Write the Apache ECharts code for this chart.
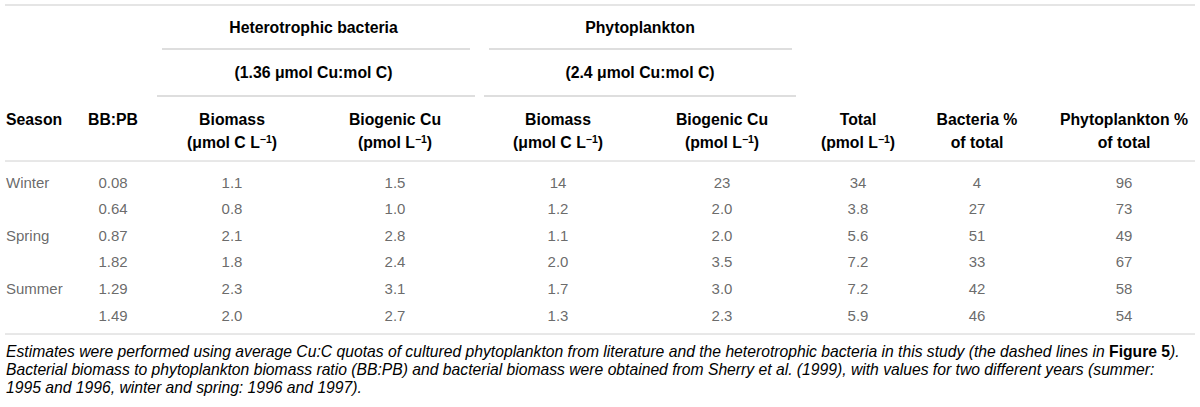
<!DOCTYPE html>
<html><head><meta charset="utf-8">
<script src="https://cdn.jsdelivr.net/npm/echarts@6/dist/echarts.min.js"></script>
<style>html,body{margin:0;padding:0;background:#fff}#c{width:1200px;height:407px}</style>
</head><body><div id="c"></div>
<script>
// ---- data ----
const seasons = ['Winter', '', 'Spring', '', 'Summer', ''];
const bbpb = [0.08, 0.64, 0.87, 1.82, 1.29, 1.49];
const bactBiomass = [1.1, 0.8, 2.1, 1.8, 2.3, 2.0];
const bactCu = [1.5, 1.0, 2.8, 2.4, 3.1, 2.7];
const phytoBiomass = [14, 1.2, 1.1, 2.0, 1.7, 1.3];
const phytoCu = [23, 2.0, 2.0, 3.5, 3.0, 2.3];
const totalCu = [34, 3.8, 5.6, 7.2, 7.2, 5.9];
const bactPct = [4, 27, 51, 33, 42, 46];
const phytoPct = [96, 73, 49, 67, 58, 54];

// ---- text ----
const groupTitles = ['Heterotrophic bacteria', 'Phytoplankton'];
const groupQuotas = ['(1.36 \u03bcmol Cu:mol C)', '(2.4 \u03bcmol Cu:mol C)'];
const headLine1 = ['Season', 'BB:PB', 'Biomass', 'Biogenic Cu', 'Biomass', 'Biogenic Cu', 'Total', 'Bacteria %', 'Phytoplankton %'];
const headLine2 = [null, null, ['(\u03bcmol C L', '\u22121', ')'], ['(pmol L', '\u22121', ')'], ['(\u03bcmol C L', '\u22121', ')'], ['(pmol L', '\u22121', ')'], ['(pmol L', '\u22121', ')'], ['of total'], ['of total']];
const captionLines = [
  [['i', 'Estimates were performed using average Cu:C quotas of cultured phytoplankton from literature and the heterotrophic bacteria in this study (the dashed lines in '], ['b', 'Figure 5'], ['i', ').']],
  [['i', 'Bacterial biomass to phytoplankton biomass ratio (BB:PB) and bacterial biomass were obtained from '], ['g', 'Sherry et al. (1999)'], ['i', ', with values for two different years (summer:']],
  [['i', '1995 and 1996, winter and spring: 1996 and 1997).']]
];

// ---- layout (positions only) ----
const colX = [6, 113, 232, 395, 558, 722, 858, 977, 1124];
const groupX = [[162, 470], [489, 792]];
const groupX2 = [[157, 475], [484, 796]];
const FONT = '"Liberation Sans", Arial, Helvetica, sans-serif';

const fmt1 = v => v >= 10 ? v.toFixed(0) : v.toFixed(1);
const columns = [
  {values: seasons, fmt: v => v},
  {values: bbpb, fmt: v => v.toFixed(2)},
  {values: bactBiomass, fmt: fmt1},
  {values: bactCu, fmt: fmt1},
  {values: phytoBiomass, fmt: fmt1},
  {values: phytoCu, fmt: fmt1},
  {values: totalCu, fmt: fmt1},
  {values: bactPct, fmt: v => String(v)},
  {values: phytoPct, fmt: v => String(v)}
];

const chart = echarts.init(document.getElementById('c'), null, {renderer: 'svg'});

const headRich = {
  h: {fontFamily: FONT, fontSize: 15.8, fontWeight: 'bold', color: '#1a1a1a', lineHeight: 18},
  s: {fontFamily: FONT, fontSize: 10.5, fontWeight: 'bold', color: '#1a1a1a', lineHeight: 10, verticalAlign: 'top'}
};
function textEl(x, y, text, opts) {
  return Object.assign({type: 'text', x: x, y: y, silent: true,
    style: Object.assign({text: text, align: 'center', verticalAlign: 'middle', textAlign: 'center', textVerticalAlign: 'middle'}, opts)});
}
function lineEl(x1, x2, y, color, w) {
  return {type: 'line', silent: true, shape: {x1: x1, y1: y, x2: x2, y2: y}, style: {stroke: color, lineWidth: w}};
}

const graphic = [];
graphic.push(lineEl(5, 1195, 5, '#dcdcdc', 1.5));
groupTitles.forEach((t, g) => {
  const cx = (colX[2 + 2 * g] + colX[3 + 2 * g]) / 2;
  graphic.push(textEl(cx, 27, '{h|' + t + '}', {rich: headRich}));
  graphic.push(lineEl(groupX[g][0], groupX[g][1], 49, '#bdbdbd', 1));
  graphic.push(textEl(cx, 72, '{h|' + groupQuotas[g] + '}', {rich: headRich}));
  graphic.push(lineEl(groupX2[g][0], groupX2[g][1], 96, '#bdbdbd', 1));
});
headLine1.forEach((t, c) => {
  const left = c === 0;
  graphic.push(textEl(colX[c], 119, '{h|' + t + '}', {rich: headRich, align: left ? 'left' : 'center', textAlign: left ? 'left' : 'center'}));
  const l2 = headLine2[c];
  if (l2) {
    let s = '{h|' + l2[0] + '}';
    if (l2.length > 1) s += '{s|' + l2[1] + '}{h|' + l2[2] + '}';
    graphic.push(textEl(colX[c], 142, s, {rich: headRich}));
  }
});
graphic.push(lineEl(5, 1195, 161, '#d0d0d0', 1));
graphic.push(lineEl(5, 1195, 334, '#d0d0d0', 1));
const CAP = 15.7;
const capRich = {
  i: {fontFamily: FONT, fontSize: CAP, fontStyle: 'italic', color: '#333'},
  b: {fontFamily: FONT, fontSize: CAP, fontWeight: 'bold', color: '#222'},
  g: {fontFamily: FONT, fontSize: CAP, fontStyle: 'italic', color: '#9a9a9a'}
};
captionLines.forEach((segs, k) => {
  const s = segs.map(p => '{' + p[0] + '|' + p[1] + '}').join('');
  graphic.push(textEl(6, 351 + k * 18, s, {rich: capRich, align: 'left', textAlign: 'left'}));
});

const series = columns.map((col, c) => ({
  type: 'scatter',
  silent: true,
  symbolSize: 1,
  itemStyle: {color: 'rgba(0,0,0,0)'},
  data: col.values.map((v, i) => [colX[c], i, v]),
  label: {
    show: true,
    position: 'inside',
    align: c === 0 ? 'left' : 'center',
    verticalAlign: 'middle',
    formatter: p => col.fmt(p.value[2]),
    fontFamily: FONT,
    fontSize: 15,
    color: '#444'
  }
}));

chart.setOption({
  animation: false,
  grid: {left: 0, right: 0, top: 168.7, bottom: 78.7},
  xAxis: {type: 'value', min: 0, max: 1200, show: false},
  yAxis: {type: 'value', min: -0.5, max: 5.5, inverse: true, show: false},
  series: series,
  graphic: graphic
});
</script>
</body></html>
